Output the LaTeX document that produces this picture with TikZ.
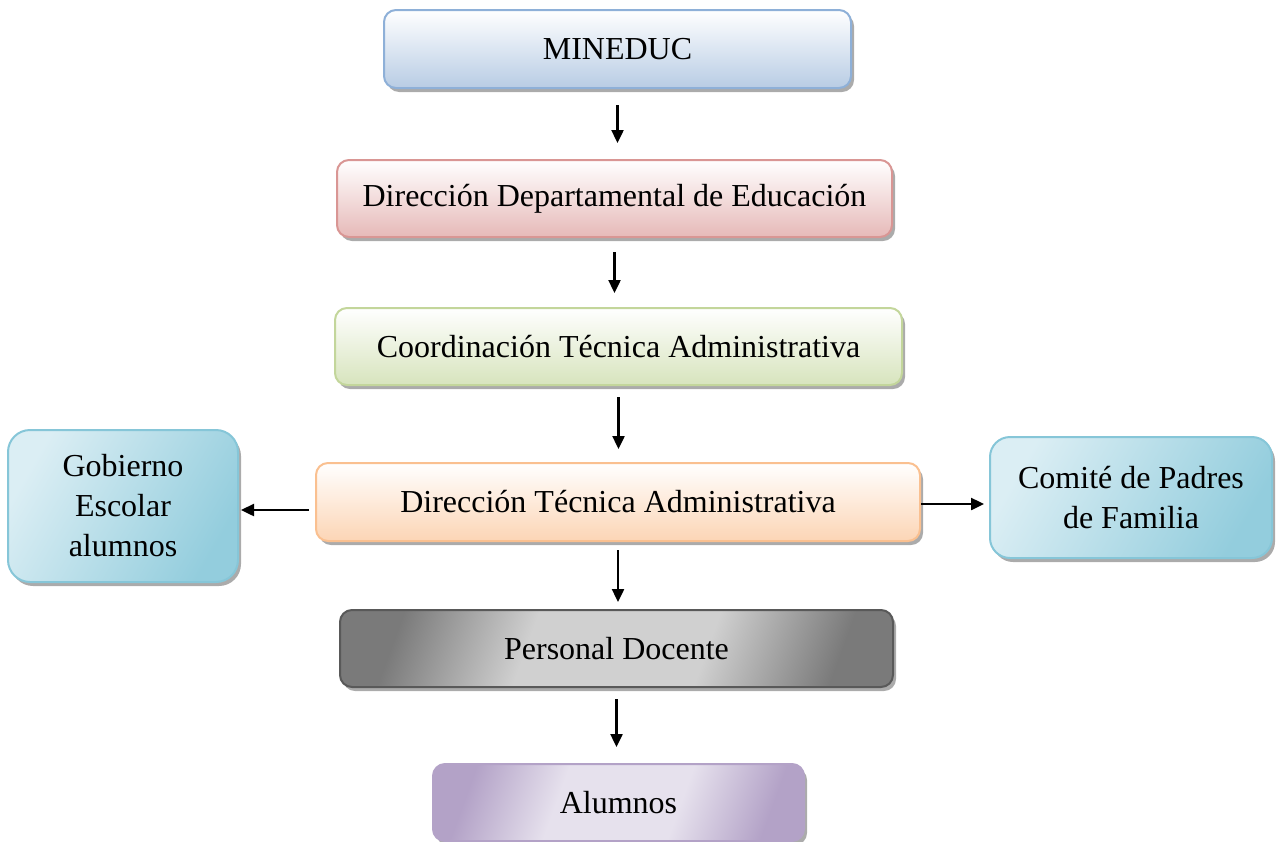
\documentclass[tikz,border=0pt]{standalone}
\usepackage{fontspec}
\setmainfont{Liberation Serif}
\usetikzlibrary{shadows,arrows.meta}
\definecolor{bB}{HTML}{8EB0D8}\definecolor{bF}{HTML}{B8CCE4}
\definecolor{rB}{HTML}{D99694}\definecolor{rF}{HTML}{E6B9B8}
\definecolor{gB}{HTML}{C3D69B}\definecolor{gF}{HTML}{D7E4BD}
\definecolor{oB}{HTML}{FAC090}\definecolor{oF}{HTML}{FCD5B5}
\definecolor{aB}{HTML}{86C6D8}\definecolor{aD}{HTML}{93CDDD}\definecolor{aL}{HTML}{DBEEF4}
\definecolor{kB}{HTML}{595959}\definecolor{kD}{HTML}{7A7A7A}\definecolor{kL}{HTML}{D0D0D0}
\definecolor{pB}{HTML}{B3A2C7}\definecolor{pD}{HTML}{B3A2C7}\definecolor{pL}{HTML}{E6E1ED}
\pgfdeclarehorizontalshading{grayshade}{100bp}{color(0bp)=(kD); color(25bp)=(kD); color(40bp)=(kL); color(60bp)=(kL); color(75bp)=(kD); color(100bp)=(kD)}
\pgfdeclarehorizontalshading{purpshade}{100bp}{color(0bp)=(pD); color(25bp)=(pD); color(40bp)=(pL); color(60bp)=(pL); color(75bp)=(pD); color(100bp)=(pD)}
\tikzset{
  box/.style={rounded corners=12pt, line width=2pt, align=center,
    font=\fontsize{32}{40}\selectfont,
    drop shadow={shadow xshift=3pt, shadow yshift=-4pt, fill=black!55, opacity=0.6}},
  arr/.style={line width=2.4pt, -{Triangle[length=13pt,width=12pt]}},
}
\begin{document}
\begin{tikzpicture}[x=1pt,y=-1pt]
\useasboundingbox (0,0) rectangle (1276,841);
\node[box, draw=bB, top color=white, bottom color=bF, minimum width=467pt, minimum height=78pt] (mineduc) at (617.5,49) {MINEDUC};
\node[box, draw=rB, top color=white, bottom color=rF, minimum width=555pt, minimum height=77pt] (dde) at (614.5,198.5) {Dirección Departamental de Educación};
\node[box, draw=gB, top color=white, bottom color=gF, minimum width=567pt, minimum height=77pt] (cta) at (618.5,346.5) {Coordinación Técnica Administrativa};
\node[box, draw=oB, top color=white, bottom color=oF, minimum width=604pt, minimum height=78pt] (dta) at (618,502) {Dirección Técnica Administrativa};
\node[box, rounded corners=22pt, draw=aB, left color=aL, right color=aD, shading angle=60, minimum width=230pt, minimum height=152pt] (gob) at (123,506) {Gobierno\\Escolar\\alumnos};
\node[box, rounded corners=20pt, draw=aB, left color=aL, right color=aD, shading angle=60, minimum width=282pt, minimum height=121pt] (com) at (1131,497.5) {Comité de Padres\\de Familia};
\node[box, draw=kB, shading=grayshade, shading angle=-20, minimum width=553pt, minimum height=77pt] (pd) at (616.5,648.5) {Personal Docente};
\node[box, draw=pB, shading=purpshade, shading angle=-20, minimum width=371pt, minimum height=77pt] (alu) at (618.5,802.5) {Alumnos};
\draw[arr] ([yshift=-16pt]mineduc.south) -- ([yshift=16pt]mineduc.south |- dde.north);
\draw[arr] ([yshift=-14pt]dde.south) -- ([yshift=14pt]dde.south |- cta.north);
\draw[arr] ([yshift=-11pt]cta.south) -- ([yshift=13pt]cta.south |- dta.north);
\draw[arr] ([yshift=-8pt]dta.south) -- ([yshift=7pt]dta.south |- pd.north);
\draw[arr] ([yshift=-11pt]pd.south) -- ([yshift=16pt]pd.south |- alu.north);
\draw[arr] ([xshift=-6pt]dta.west |- 0,510) -- ([xshift=2pt]gob.east |- 0,510);
\draw[arr] (dta.east |- 0,504) -- ([xshift=-5pt]com.west |- 0,504);
\end{tikzpicture}
\end{document}
